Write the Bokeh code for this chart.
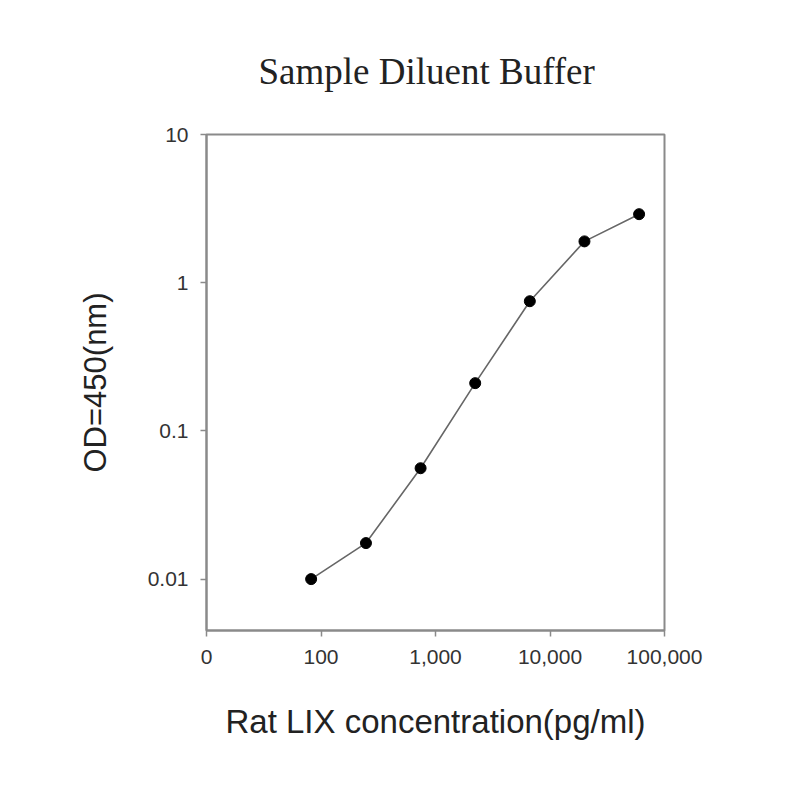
from bokeh.plotting import figure
from bokeh.models import FixedTicker, Range1d
from bokeh.embed import file_html
from bokeh.resources import INLINE

# Data
concentration = [82, 247, 741, 2222, 6667, 20000, 60000]
od450 = [0.010, 0.0175, 0.056, 0.21, 0.75, 1.9, 2.9]

x_ticks = [10, 100, 1000, 10000, 100000]
x_tick_labels = ["0", "100", "1,000", "10,000", "100,000"]
y_ticks = [0.01, 0.1, 1, 10]
y_tick_labels = ["0.01", "0.1", "1", "10"]

title_text = "Sample Diluent Buffer"
x_label = "Rat LIX concentration(pg/ml)"
y_label = "OD=450(nm)"

W, H = 784, 784
p = figure(width=W, height=H, x_axis_type="log", y_axis_type="log",
           x_range=Range1d(10, 100000), y_range=Range1d(0.0045, 10),
           output_backend="svg", toolbar_location=None,
           min_border_left=206, min_border_right=W - 664,
           min_border_top=134, min_border_bottom=H - 630)

p.title.text = title_text
p.title.align = "left"
p.title.offset = 52
p.title.text_font = "Liberation Serif"
p.title.text_font_size = "37px"
p.title.text_font_style = "normal"
p.title.text_color = "#222222"
p.title.standoff = 86

p.line(concentration, od450, line_color="#666666", line_width=1.6)
p.scatter(concentration, od450, size=11, fill_color="black", line_color="black")

p.xgrid.visible = False
p.ygrid.visible = False
p.outline_line_color = "#8a8a8a"
p.outline_line_width = 2
p.background_fill_color = "white"
p.border_fill_color = "white"

p.xaxis.ticker = FixedTicker(ticks=x_ticks)
p.xaxis.major_label_overrides = {t: l for t, l in zip(x_ticks, x_tick_labels)}
p.yaxis.ticker = FixedTicker(ticks=y_ticks)
p.yaxis.major_label_overrides = {t: l for t, l in zip(y_ticks, y_tick_labels)}

for ax in (p.xaxis, p.yaxis):
    ax.axis_line_color = "#8a8a8a"
    ax.axis_line_width = 2
    ax.major_tick_line_color = "#8a8a8a"
    ax.major_tick_line_width = 1.5
    ax.major_tick_out = 6
    ax.major_tick_in = 0
    ax.minor_tick_line_color = None
    ax.major_label_text_font = "Liberation Sans"
    ax.major_label_text_font_size = "21px"
    ax.major_label_text_color = "#333333"
    ax.axis_label_text_font = "Liberation Sans"
    ax.axis_label_text_font_style = "normal"
    ax.axis_label_text_color = "#222222"

p.xaxis.axis_label = x_label
p.xaxis.axis_label_text_font_size = "33px"
p.xaxis.major_label_standoff = 13
p.xaxis.axis_label_standoff = 36
p.yaxis.axis_label = y_label
p.yaxis.axis_label_text_font_size = "31px"
p.yaxis.major_label_standoff = 12
p.yaxis.axis_label_standoff = 32

open("out.html", "w").write(file_html(p, INLINE))
